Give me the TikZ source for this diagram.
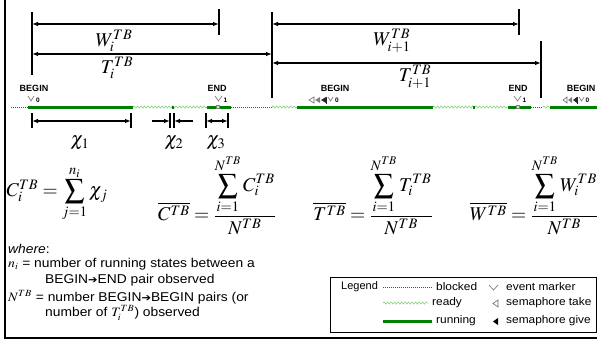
\documentclass[tikz,border=0pt]{standalone}
\usepackage{amsmath}
\usepackage{mathptmx}
\usepackage{fontspec}
\setmainfont{Liberation Serif}
\setsansfont{Liberation Sans}
\newfontfamily\djv{DejaVu Sans}
\usepackage{tikz}
\usetikzlibrary{arrows.meta,calc,decorations.pathmorphing}
\definecolor{runc}{RGB}{0,128,0}
\definecolor{rdyc}{RGB}{110,200,100}
\newcommand{\hstr}[1]{\scalebox{1.08}[1]{#1}}
\newcommand{\harr}{{\djv\fontsize{10.5}{12}\selectfont ➔}}

\begin{document}
\begin{tikzpicture}[x=1pt,y=-1pt,>={Latex[length=6pt,width=4.5pt]},
  run/.style={runc,line width=3pt},
  rdy/.style={rdyc,line width=0.5pt,decorate,decoration={snake,amplitude=1.1pt,segment length=3.5pt}},
  blk/.style={black!70,line width=0.6pt,dash pattern=on 1pt off 1pt},
  dimarr/.style={line width=1.1pt,<->},
  tk/.style={line width=1.1pt},
  mth/.style={inner sep=0pt,font=\fontsize{19.5}{22}\selectfont},
  lbl/.style={inner sep=0pt,font=\sffamily\bfseries\fontsize{9}{10}\selectfont},
  idx/.style={inner sep=0pt,font=\sffamily\bfseries\fontsize{6.5}{7}\selectfont},
  txt/.style={inner sep=0pt,anchor=west,font=\sffamily\fontsize{12.8}{14}\selectfont},
  leg/.style={inner sep=0pt,anchor=west,font=\sffamily\fontsize{11}{12}\selectfont},
  evm/.style={gray,line width=0.7pt},
  semt/.style={gray!80!black,line width=0.6pt}]
    \useasboundingbox (0,0) rectangle (597,343);
    \draw[line width=1.2pt] (5,0) -- (5,338) -- (597,338);
    % period ticks and spans
    \draw[tk] (32,12) -- (32,75);
    \draw[tk] (219,9) -- (219,35);
    \draw[tk] (272,12) -- (272,98);
    \draw[tk] (519,9) -- (519,35);
    \draw[tk] (541,41) -- (541,98);
    \coordinate (wi-s) at (32,24);  \coordinate (wi-e) at (219,24);
    \coordinate (ti-s) at (32,54);  \coordinate (ti-e) at (272,54);
    \coordinate (wj-s) at (272,24); \coordinate (wj-e) at (519,24);
    \coordinate (tj-s) at (272,63); \coordinate (tj-e) at (541,63);
    \draw[dimarr] (wi-s) -- (wi-e);
    \draw[dimarr] (ti-s) -- (ti-e);
    \draw[dimarr] (wj-s) -- (wj-e);
    \draw[dimarr] (tj-s) -- (tj-e);
    \node[mth] (wi) at (114,41) {$W_i^{TB}$};
    \node[mth] (ti) at (117,68) {$T_i^{TB}$};
    \node[mth] (wj) at (392,41) {$W_{i+1}^{TB}$};
    \node[mth] (tj) at (415,77) {$T_{i+1}^{TB}$};
    % time line
    \draw[blk] (11,107) -- (28,107);
    \draw[run] (28,107) -- (133,107);
    \draw[rdy] (133,107) -- (207,107);
    \draw[run] (172,107) -- (174,107);
    \draw[run] (207,107) -- (231,107);
    \draw[blk] (231,107) -- (272,107);
    \draw[rdy] (272,107) -- (297,107);
    \draw[run] (297,107) -- (433,107);
    \draw[rdy] (433,107) -- (508,107);
    \draw[run] (473,107) -- (475,107);
    \draw[run] (508,107) -- (531,107);
    \draw[blk] (531,107) -- (543,107);
    \draw[rdy] (543,107) -- (550,107);
    \draw[run] (550,107) -- (597,107);
    \draw[gray,fill=gray!30,line width=0.4pt] (216,105.5) rectangle (219.5,108.5);
    \draw[gray,fill=gray!30,line width=0.4pt] (516,105.5) rectangle (519.5,108.5);
    \node[lbl] (beg1) at (34,88) {BEGIN};
    \node[lbl] (end1) at (217,88) {END};
    \node[lbl] (beg2) at (335,88) {BEGIN};
    \node[lbl] (end2) at (518,88) {END};
    \node[lbl] (beg3) at (581,88) {BEGIN};
    % markers
    \draw[evm] (28,96) -- (31,101) -- (34,96);
    \node[idx] (ev0) at (38,100) {0};
    \draw[evm] (215,96) -- (218.5,101) -- (222,96);
    \node[idx] (ev1) at (225.5,100) {1};
    \draw[semt] (314,97) -- (309,100) -- (314,103) -- cycle;
    \fill[gray] (320,97) -- (315,100) -- (320,103) -- cycle;
    \fill[black!85] (326,97) -- (321,100) -- (326,103) -- cycle;
    \draw[black!85,line width=0.8pt] (326.5,96.5) -- (326.5,103.5);
    \draw[evm] (328,97) -- (330.5,101) -- (333,97);
    \node[idx] (ev2) at (337,100.5) {0};
    \draw[evm] (514,96) -- (517.5,101) -- (521,96);
    \node[idx] (ev3) at (524.5,100) {1};
    \draw[semt] (567,97) -- (563,100) -- (567,103) -- cycle;
    \fill[gray] (572,97) -- (568,100) -- (572,103) -- cycle;
    \fill[black!85] (577,97) -- (573,100) -- (577,103) -- cycle;
    \draw[black!85,line width=0.8pt] (577.5,96.5) -- (577.5,103.5);
    \draw[evm] (579,97) -- (581.5,101) -- (584,97);
    \node[idx] (ev4) at (587.5,100.5) {0};
    % running pieces
    \draw[tk] (32,113) -- (32,128);
    \draw[tk] (131,113) -- (131,128);
    \draw[tk] (170,113) -- (170,128);
    \draw[tk] (174,113) -- (174,128);
    \draw[tk] (206,113) -- (206,128);
    \draw[tk] (228,113) -- (228,128);
    \coordinate (x1-s) at (32,121); \coordinate (x1-e) at (131,121);
    \coordinate (x2-l) at (152,121); \coordinate (x2-a) at (170,121);
    \coordinate (x2-b) at (174,121); \coordinate (x2-r) at (193,121);
    \coordinate (x3-s) at (206,121); \coordinate (x3-e) at (228,121);
    \draw[dimarr] (x1-s) -- (x1-e);
    \draw[line width=1.1pt,->] (x2-l) -- (x2-a);
    \draw[line width=1.1pt,->] (x2-r) -- (x2-b);
    \draw[dimarr] (x3-s) -- (x3-e);
    \node[mth] (chi1) at (80,143) {$\chi_1$};
    \node[mth] (chi2) at (174,143) {$\chi_2$};
    \node[mth] (chi3) at (216,143) {$\chi_3$};
    % formulas
    \node[mth] (fci) at (57,194) {$C_i^{TB}=\displaystyle\sum_{j=1}^{n_i}\chi_j$};
    \node[mth] (fcm) at (217,195) {$\overline{C^{TB}}=\dfrac{\displaystyle\sum_{i=1}^{N^{TB}}C_i^{TB}}{N^{TB}}$};
    \node[mth] (ftm) at (373,195) {$\overline{T^{TB}}=\dfrac{\displaystyle\sum_{i=1}^{N^{TB}}T_i^{TB}}{N^{TB}}$};
    \node[mth] (fwm) at (534,195) {$\overline{W^{TB}}=\dfrac{\displaystyle\sum_{i=1}^{N^{TB}}W_i^{TB}}{N^{TB}}$};
    % where
    \node[txt] (wh) at (8,249) {\hstr{\textit{where}:}};
    \node[txt] (ni) at (8,264) {\hstr{$n_i$ = number of running states between a}};
    \node[txt] (ni2) at (45,280) {\hstr{BEGIN\harr END pair observed}};
    \node[txt] (nt) at (8,297) {\hstr{$N^{TB}$ = number BEGIN\harr BEGIN pairs (or}};
    \node[txt] (nt2) at (45,313) {\hstr{number of $T_i^{TB}$) observed}};
    % legend
    \draw[line width=0.9pt] (330,277) rectangle (596.5,332);
    \node[leg] (lg) at (341,287) {Legend};
    \draw[blk] (383,287) -- (433,287);
    \node[leg] (lgb) at (436,287) {\hstr{blocked}};
    \draw[rdy] (383,303) -- (428,303);
    \node[leg] (lgr) at (432,303) {\hstr{ready}};
    \draw[run] (383,321) -- (432,321);
    \node[leg] (lgu) at (436,321) {\hstr{running}};
    \draw[evm] (489,285) -- (493.5,290) -- (498,285);
    \node[leg] (lge) at (506,287) {\hstr{event marker}};
    \draw[semt] (498,300) -- (493,303.5) -- (498,307) -- cycle;
    \node[leg] (lgt) at (506,303) {\hstr{semaphore take}};
    \fill[black] (498,318) -- (493,321.5) -- (498,325) -- cycle;
    \node[leg] (lgg) at (506,321) {\hstr{semaphore give}};
\end{tikzpicture}
\end{document}
